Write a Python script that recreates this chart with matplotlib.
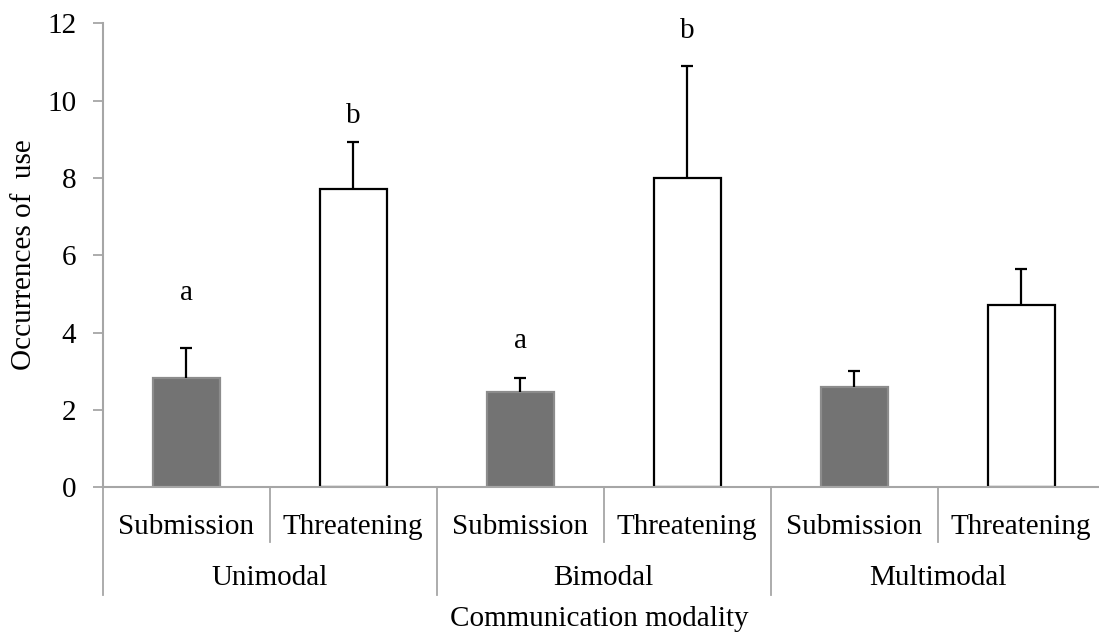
import matplotlib
matplotlib.use("Agg")
import matplotlib.pyplot as plt
import numpy as np

# Data: mean occurrences and standard errors per modality and signal type
modalities = ["Unimodal", "Bimodal", "Multimodal"]
signal_types = ["Submission", "Threatening"]
means = [2.83, 7.71, 2.47, 7.99, 2.60, 4.71]
errors = [0.78, 1.23, 0.35, 2.91, 0.42, 0.94]
letters = ["a", "b", "a", "b", "", ""]
letter_y = [4.85, 9.42, 3.60, 11.62, None, None]

plt.rcParams["font.family"] = ["Liberation Serif", "DejaVu Serif"]

W, H = 1099, 632
fig = plt.figure(figsize=(W / 100, H / 100), dpi=100)
left_px, right_px = 102.7, 1104.7
top_px, bottom_px = 23.3, 487.3
ax = fig.add_axes([left_px / W, 1 - bottom_px / H,
                   (right_px - left_px) / W, (bottom_px - top_px) / H])

axis_gray = "#a6a6a6"
fill_colors = ["#737373", "white"] * 3
edge_colors = ["#8c8c8c", "black"] * 3

x = np.arange(len(means)) + 0.5
ax.bar(x, means, width=0.40, color=fill_colors, edgecolor=edge_colors,
       linewidth=1.6, zorder=2)

# Upper-only error bars with caps
cap = 0.037
tops = np.array(means) + np.array(errors)
ax.vlines(x, means, tops, color="black", linewidth=1.6, zorder=3)
ax.hlines(tops, x - cap, x + cap, color="black", linewidth=1.6, zorder=3)

for xi, lab, ly in zip(x, letters, letter_y):
    if lab:
        ax.text(xi, ly, lab, ha="center", va="baseline", fontsize=21)

ax.set_xlim(0, 6)
ax.set_ylim(0, 12)
ax.set_yticks(np.arange(0, 13, 2))
ax.tick_params(axis="y", direction="out", length=7, width=1.3,
               color=axis_gray, labelsize=21, pad=12)
ax.tick_params(axis="x", bottom=False, labelbottom=False)
for s in ["top", "right"]:
    ax.spines[s].set_visible(False)
for s in ["left", "bottom"]:
    ax.spines[s].set_color(axis_gray)
    ax.spines[s].set_linewidth(1.5)

# Hierarchical category axis
ax_h = bottom_px - top_px
def ay(px):
    return (bottom_px - px) / ax_h

trans = ax.get_xaxis_transform()
for i in range(len(means) + 1):
    y_end = ay(595) if i % 2 == 0 else ay(541.7)
    ax.plot([i, i], [0, y_end], color=axis_gray, linewidth=1.3,
            transform=trans, clip_on=False)

for i, xi in enumerate(x):
    ax.text(xi, ay(527), signal_types[i % 2], transform=trans,
            ha="center", va="center", fontsize=21)
for j, m in enumerate(modalities):
    ax.text(2 * j + 1, ay(578), m, transform=trans,
            ha="center", va="center", fontsize=21)

fig.text(0.5 * (100 + 1099) / W + 0.0, 1 - 619 / H, "Communication modality",
         ha="center", va="center", fontsize=21)
fig.text(24 / W, 1 - 255 / H, "Occurrences of  use", rotation=90,
         ha="center", va="center", fontsize=21)

fig.savefig("out.png", dpi=100)
